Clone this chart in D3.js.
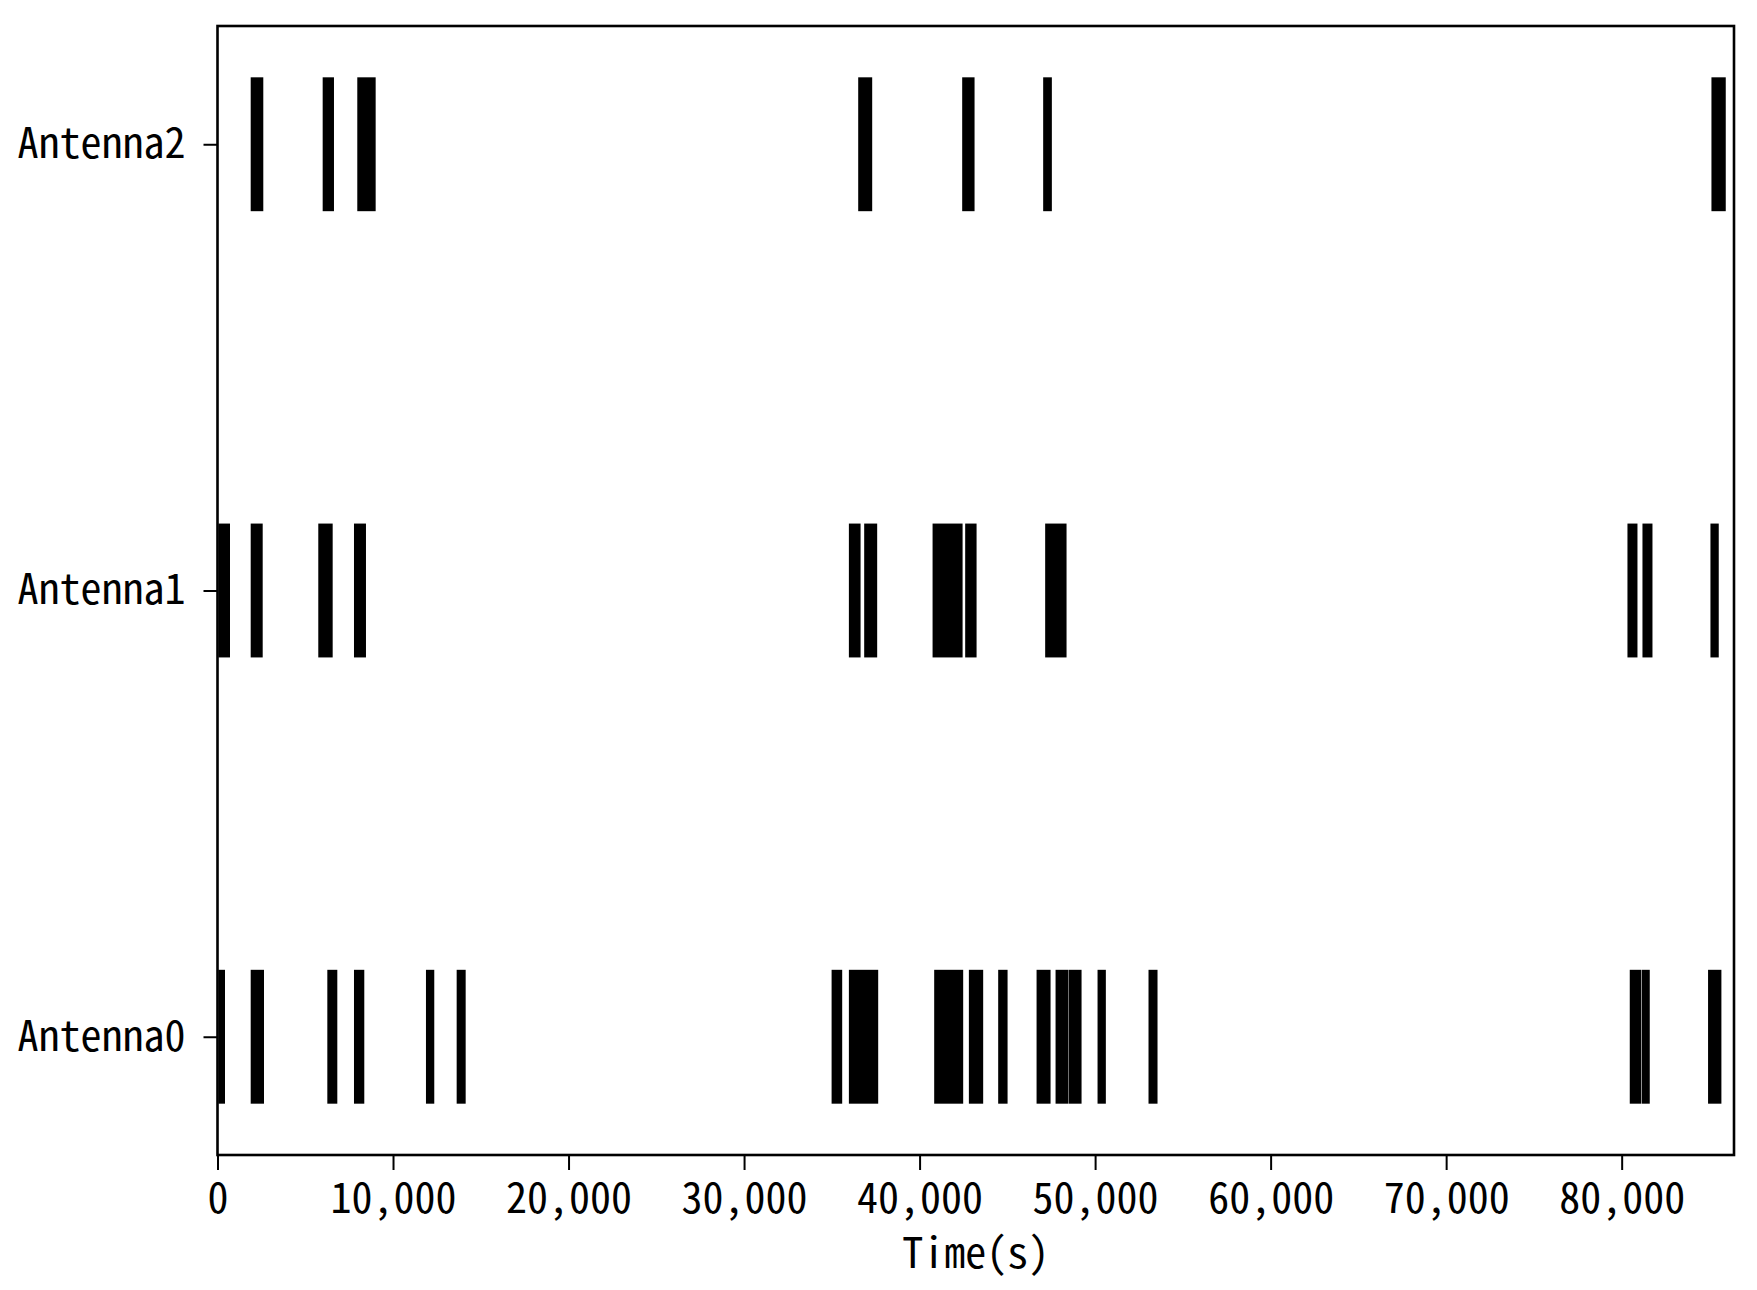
<!DOCTYPE html>
<html>
<head>
<meta charset="utf-8">
<script src="https://cdn.jsdelivr.net/npm/d3@7"></script>
<style>
  html, body { margin: 0; padding: 0; background: #fff; }
  svg { display: block; }
  text { font-family: "Noto Sans Mono CJK SC", "DejaVu Sans Mono", monospace; fill: #000; }
</style>
</head>
<body>
<svg id="chart" width="1757" height="1290"></svg>
<script>
// Categories (bottom to top)
const categories = ["Antenna0", "Antenna1", "Antenna2"];
// Active intervals [start, end] in seconds, per antenna
const antenna0 = [
  [46, 427], [1891, 2649], [6257, 6826], [7776, 8363], [11877, 12350], [13626, 14139],
  [34987, 35591], [35972, 37642], [40832, 42484], [42808, 43623], [44478, 45013],
  [46665, 47462], [47747, 48480], [48500, 49228], [50139, 50612], [53043, 53556],
  [80461, 81110], [81140, 81600], [84922, 85682]
];
const antenna1 = [
  [46, 712], [1891, 2575], [5742, 6562], [7776, 8459],
  [35972, 36638], [36844, 37584], [40740, 42450], [42598, 43247], [47155, 48373],
  [80330, 80900], [81185, 81755], [85058, 85531]
];
const antenna2 = [
  [1891, 2609], [5992, 6636], [7964, 9011],
  [36503, 37300], [42427, 43132], [47041, 47536],
  [85115, 85930]
];
const seriesData = [antenna0, antenna1, antenna2];
const xTicks = [0, 10000, 20000, 30000, 40000, 50000, 60000, 70000, 80000];
const xDomain = [0, 86400];
const yDomain = [-0.265, 2.265];
const lineLength = 0.3;
const xLabel = "Time(s)";

const svg = d3.select("#chart");
const pLeft = 217.5, pRight = 1734, pTop = 26, pBottom = 1155;
const fontSize = 42;

const x = d3.scaleLinear().domain(xDomain).range([pLeft, pRight]);
const y = d3.scaleLinear().domain(yDomain).range([pBottom, pTop]);

// Bars
const g = svg.append("g");
seriesData.forEach((arr, i) => {
  g.selectAll(null).data(arr).enter().append("rect")
    .attr("x", d => x(d[0]))
    .attr("width", d => Math.max(1, x(d[1]) - x(d[0])))
    .attr("y", y(i + lineLength / 2))
    .attr("height", y(i - lineLength / 2) - y(i + lineLength / 2))
    .attr("fill", "#000");
});

// Frame
svg.append("rect")
  .attr("x", pLeft).attr("y", pTop)
  .attr("width", pRight - pLeft).attr("height", pBottom - pTop)
  .attr("fill", "none").attr("stroke", "#000").attr("stroke-width", 2.6);

// X axis
const xAxis = d3.axisBottom(x).tickValues(xTicks).tickFormat(d3.format(",")).tickSize(15).tickPadding(13);
const xg = svg.append("g").attr("transform", `translate(0,${pBottom})`).call(xAxis);
xg.select(".domain").remove();
xg.selectAll(".tick line").attr("stroke", "#000").attr("stroke-width", 2);
xg.selectAll(".tick text").attr("font-size", fontSize).attr("font-family", null);

// Y axis
const yAxis = d3.axisLeft(y).tickValues([0, 1, 2]).tickFormat(i => categories[i]).tickSize(14).tickPadding(18);
const yg = svg.append("g").attr("transform", `translate(${pLeft},0)`).call(yAxis);
yg.select(".domain").remove();
yg.selectAll(".tick line").attr("stroke", "#000").attr("stroke-width", 2);
yg.selectAll(".tick text").attr("font-size", fontSize).attr("font-family", null);

// X label
svg.append("text")
  .attr("x", (pLeft + pRight) / 2)
  .attr("y", 1268)
  .attr("text-anchor", "middle")
  .attr("font-size", fontSize)
  .text(xLabel);
</script>
</body>
</html>
